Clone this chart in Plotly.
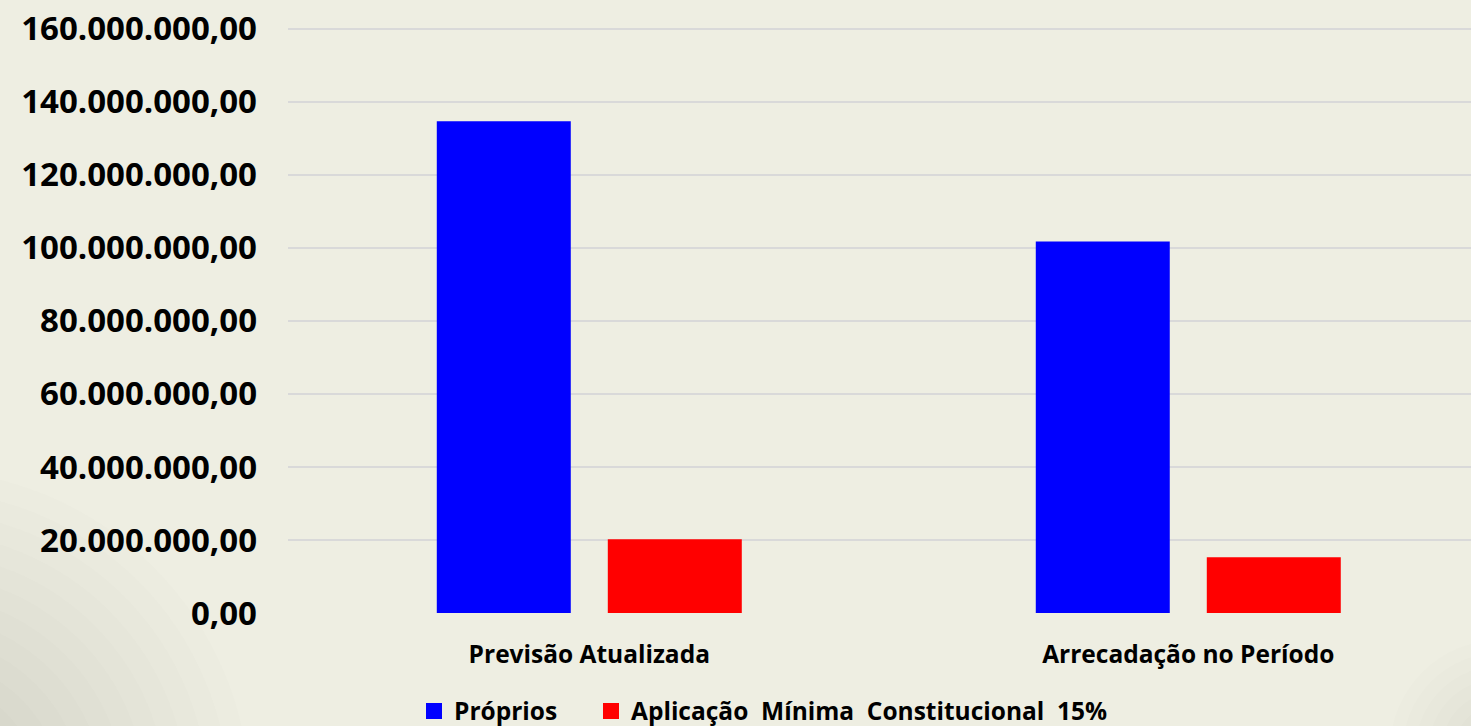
import plotly.graph_objects as go

categories = ["Previsão Atualizada", "Arrecadação no Período"]
proprios = [134_660_000, 101_780_000]
aplicacao = [20_200_000, 15_270_000]
series_names = ["Próprios", "Aplicação\u00a0 Mínima\u00a0 Constitucional\u00a0 15%"]
series_colors = ["#0000FF", "#FF0000"]
tick_vals = [0, 20e6, 40e6, 60e6, 80e6, 100e6, 120e6, 140e6, 160e6]
tick_text = ["0,00", "20.000.000,00", "40.000.000,00", "60.000.000,00", "80.000.000,00",
             "100.000.000,00", "120.000.000,00", "140.000.000,00", "160.000.000,00"]

W, H = 1471, 726
ML, MR, MT, MB = 288, 0, 27, 113
BG = "#EEEEE2"
FONT = "Open Sans"


def px_to_paper(x, y):
    return (x - ML) / (W - ML - MR), (H - MB - y) / (H - MT - MB)


fig = go.Figure()
for vals, name, color, off in [(proprios, series_names[0], series_colors[0], -0.2546),
                               (aplicacao, series_names[1], series_colors[1], 0.0309)]:
    fig.add_trace(go.Bar(x=categories, y=vals, name=name, showlegend=False,
                         marker=dict(color=color, line=dict(width=0)),
                         width=0.2237, offset=off))
# legend entries (no data) with larger swatches, one legend each
for name, color, leg in zip(series_names, series_colors, ["legend", "legend2"]):
    fig.add_trace(go.Bar(x=[None], y=[None], name=name, showlegend=True, legend=leg,
                         marker=dict(color=color, line=dict(color=color, width=4))))

# soft vignette in the corners
shapes = []
def vignette(cx, cy, rmax, rmin, n, op):
    for i in range(n):
        r = rmax - (rmax - rmin) * i / (n - 1)
        x0, y0 = px_to_paper(cx - r, cy + r)
        x1, y1 = px_to_paper(cx + r, cy - r)
        shapes.append(dict(type="circle", xref="paper", yref="paper", x0=x0, y0=y0, x1=x1, y1=y1,
                           fillcolor=f"rgba(150,155,145,{op})", line=dict(width=0), layer="below"))

vignette(-80, 800, 330, 60, 14, 0.018)
vignette(1500, 750, 110, 20, 8, 0.015)

legend_common = dict(orientation="h", xref="container", yref="container",
                     y=1 - 711 / H, xanchor="left", yanchor="middle",
                     font=dict(family=FONT, size=24.5, weight="bold", color="#000000"),
                     bgcolor="rgba(0,0,0,0)", itemwidth=30)

fig.update_layout(
    width=W, height=H, autosize=False,
    paper_bgcolor=BG, plot_bgcolor="rgba(0,0,0,0)",
    margin=dict(l=ML, r=MR, t=MT, b=MB),
    barmode="overlay",
    font=dict(family=FONT, color="#000000"),
    shapes=shapes,
    showlegend=True,
    legend=dict(x=414 / W, **legend_common),
    legend2=dict(x=591 / W, **legend_common),
)
fig.update_xaxes(type="category", range=[-0.503, 1.472], showgrid=False, zeroline=False,
                 showline=False, ticks="", ticklabelstandoff=24,
                 tickfont=dict(family=FONT, size=24.5, weight="bold", color="#000000"))
fig.update_yaxes(range=[0, 160.5e6], tickvals=tick_vals, ticktext=tick_text,
                 showgrid=True, gridcolor="#D9D9D9", gridwidth=2, zeroline=False,
                 showline=False, ticks="", ticklabelstandoff=30,
                 tickfont=dict(family=FONT, size=33, weight="bold", color="#000000"))

fig.write_html("out.html", config={"displayModeBar": False},
               post_script="document.body.style.margin='0';")
